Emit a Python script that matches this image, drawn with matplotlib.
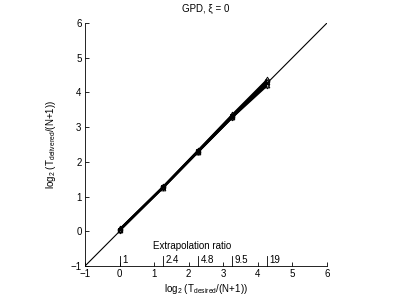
import numpy as np
import matplotlib
matplotlib.use("Agg")
from matplotlib import pyplot as plt

plt.rcParams['font.family'] = ['Liberation Sans', 'DejaVu Sans']
plt.rcParams['mathtext.fontset'] = 'custom'
plt.rcParams['mathtext.rm'] = 'Liberation Sans'
plt.rcParams['mathtext.it'] = 'Liberation Sans'

# extrapolation ratios and their log2 positions
ratios = ["1", "2.4", "4.8", "9.5", "19"]
xdes = [0.0, 1.26, 2.26, 3.25, 4.25]

# delivered values, one list per run
ser1 = [0.03, 1.27, 2.29, 3.30, 4.33]
ser2 = [0.05, 1.28, 2.31, 3.33, 4.30]
ser3 = [0.04, 1.26, 2.28, 3.28, 4.22]
ser4 = [0.06, 1.29, 2.32, 3.35, 4.35]
ser5 = [0.02, 1.25, 2.27, 3.27, 4.18]
ser6 = [0.05, 1.27, 2.30, 3.31, 4.27]
markers = ['o', 's', '^', 'd', 'v', 'x']

fig = plt.figure(figsize=(3.98, 3.0), dpi=100)
ax = fig.add_axes([0.2136, 0.1133, 0.608, 0.81])

ax.plot([-1, 6], [-1, 6], color='k', lw=0.8)
for s, m in zip([ser1, ser2, ser3, ser4, ser5, ser6], markers):
    ax.plot(xdes, s, color='k', lw=1.3, marker=m, ms=3.5, mfc='none', mew=0.6)

ax.set_xlim(-1, 6)
ax.set_ylim(-1, 6)
ax.set_xticks(range(-1, 7))
ax.set_yticks(range(-1, 7))
ax.tick_params(direction='in', length=3, width=0.6, labelsize=7, pad=2.5)
for sp in ['top', 'right']:
    ax.spines[sp].set_visible(False)
for sp in ['left', 'bottom']:
    ax.spines[sp].set_linewidth(0.6)

# extrapolation ratio axis
for xv, r in zip(xdes, ratios):
    ax.plot([xv, xv], [-1, -0.72], color='k', lw=0.6, clip_on=False)
    ax.text(xv + 0.08, -0.68, r, fontsize=7, ha='left', va='top')
ax.text(2.1, -0.42, "Extrapolation ratio", fontsize=7, ha='center', va='center')

ax.set_title(r"GPD, ξ = 0", fontsize=7, pad=8)
ax.set_xlabel(r"log$_2$ (T$_{desired}$/(N+1))", fontsize=7, labelpad=2)
ax.set_ylabel(r"log$_2$ (T$_{delivered}$/(N+1))", fontsize=7, labelpad=9)

fig.savefig("out.png", dpi=100)
